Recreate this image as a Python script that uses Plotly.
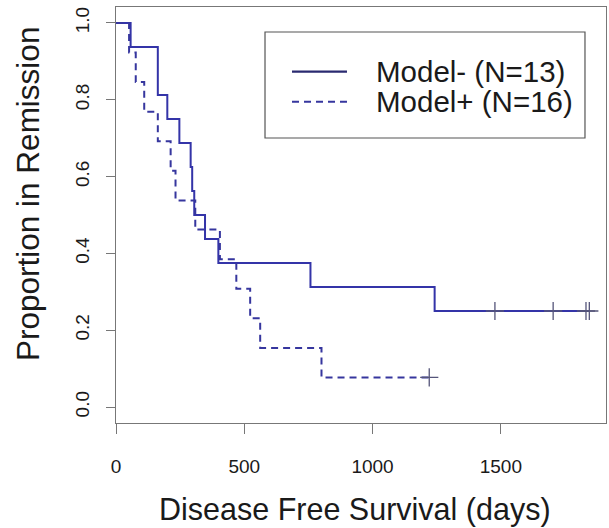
import plotly.graph_objects as go

# Model- (solid) step curve: event times (days) and survival after each step
solid_times = [0, 57, 163, 200, 247, 291, 297, 305, 347, 399, 758, 1242, 1845]
solid_surv = [1.0, 0.9375, 0.8125, 0.75, 0.6875, 0.625, 0.5625, 0.5, 0.4375, 0.375, 0.3125, 0.25, 0.25]
solid_censor_t = [1477, 1704, 1832, 1845]
solid_censor_s = [0.25, 0.25, 0.25, 0.25]

# Model+ (dashed) step curve
dash_times = [0, 51, 77, 110, 163, 213, 232, 309, 405, 469, 523, 562, 801, 1221]
dash_surv = [1.0, 0.923, 0.846, 0.769, 0.692, 0.615, 0.538, 0.462, 0.385, 0.308, 0.231, 0.154, 0.077, 0.077]
dash_censor_t = [1221]
dash_censor_s = [0.077]

legend_labels = ["Model- (N=13)", "Model+ (N=16)"]
x_ticks = [0, 500, 1000, 1500]
y_ticks = [0.0, 0.2, 0.4, 0.6, 0.8, 1.0]
y_ticktext = ["0.0", "0.2", "0.4", "0.6", "0.8", "1.0"]

SOLID_COLOR = "#3434a8"
DASH_COLOR = "#36369e"
CENSOR_COLOR = "#55557a"
FONT = "Liberation Sans, Arial, sans-serif"
TXT = "#1a1a1a"
FRAME = "#777777"

fig = go.Figure()
fig.add_trace(go.Scatter(x=solid_times, y=solid_surv, mode="lines", line_shape="hv",
                         line=dict(color=SOLID_COLOR, width=2), showlegend=False))
fig.add_trace(go.Scatter(x=dash_times, y=dash_surv, mode="lines", line_shape="hv",
                         line=dict(color=DASH_COLOR, width=2, dash="7px,5px"), showlegend=False))
fig.add_trace(go.Scatter(x=solid_censor_t, y=solid_censor_s, mode="markers",
                         marker=dict(symbol="cross-thin", size=13, line=dict(color=CENSOR_COLOR, width=1.3)),
                         showlegend=False))
fig.add_trace(go.Scatter(x=dash_censor_t, y=dash_censor_s, mode="markers",
                         marker=dict(symbol="cross-thin", size=13, line=dict(color=CENSOR_COLOR, width=1.3)),
                         showlegend=False))

# Manual legend box (R-style)
fig.add_shape(type="rect", xref="paper", yref="paper", x0=0.3041, x1=0.9571, y0=0.6851, y1=0.9399,
              line=dict(color="#555555", width=1.2), fillcolor="white", layer="above")
fig.add_shape(type="line", xref="paper", yref="paper", x0=0.3592, x1=0.4714, y0=0.8445, y1=0.8445,
              line=dict(color="#2a2a70", width=2.2), layer="above")
fig.add_shape(type="line", xref="paper", yref="paper", x0=0.3592, x1=0.4714, y0=0.7724, y1=0.7724,
              line=dict(color=DASH_COLOR, width=2, dash="7px,5px"), layer="above")
for lab, yy in zip(legend_labels, [0.8445, 0.7724]):
    fig.add_annotation(text=lab, xref="paper", yref="paper", x=0.5265, y=yy, xanchor="left",
                       yanchor="middle", showarrow=False, font=dict(size=29.5, color=TXT, family=FONT))

# Axis titles
fig.add_annotation(text="Disease Free Survival (days)", xref="paper", yref="paper", x=0.4878, y=-0.2091,
                   xanchor="center", yanchor="middle", showarrow=False,
                   font=dict(size=30.5, color=TXT, family=FONT))
fig.add_annotation(text="Proportion in Remission", xref="paper", yref="paper", x=-0.1796, y=0.5505,
                   xanchor="center", yanchor="middle", textangle=-90, showarrow=False,
                   font=dict(size=31.5, color=TXT, family=FONT))

fig.update_layout(
    width=609, height=528,
    margin=dict(l=116, r=3, t=7, b=105),
    paper_bgcolor="white", plot_bgcolor="white",
    font=dict(family=FONT, color=TXT),
)
fig.update_xaxes(range=[0, 1910], tickvals=x_ticks, ticks="outside", ticklen=10, tickwidth=1,
                 tickcolor=FRAME, showline=True, linecolor=FRAME, linewidth=1.2, mirror=True,
                 showgrid=False, zeroline=False, tickfont=dict(size=19, color=TXT),
                 ticklabelstandoff=16)
fig.update_yaxes(range=[-0.0416, 1.0416], tickvals=y_ticks, ticktext=y_ticktext, ticks="outside",
                 ticklen=9, tickwidth=1, tickcolor=FRAME, showline=True, linecolor=FRAME,
                 linewidth=1.2, mirror=True, showgrid=False, zeroline=False, tickangle=-90,
                 tickfont=dict(size=19, color=TXT), ticklabelstandoff=9)

fig.write_html("out.html")
